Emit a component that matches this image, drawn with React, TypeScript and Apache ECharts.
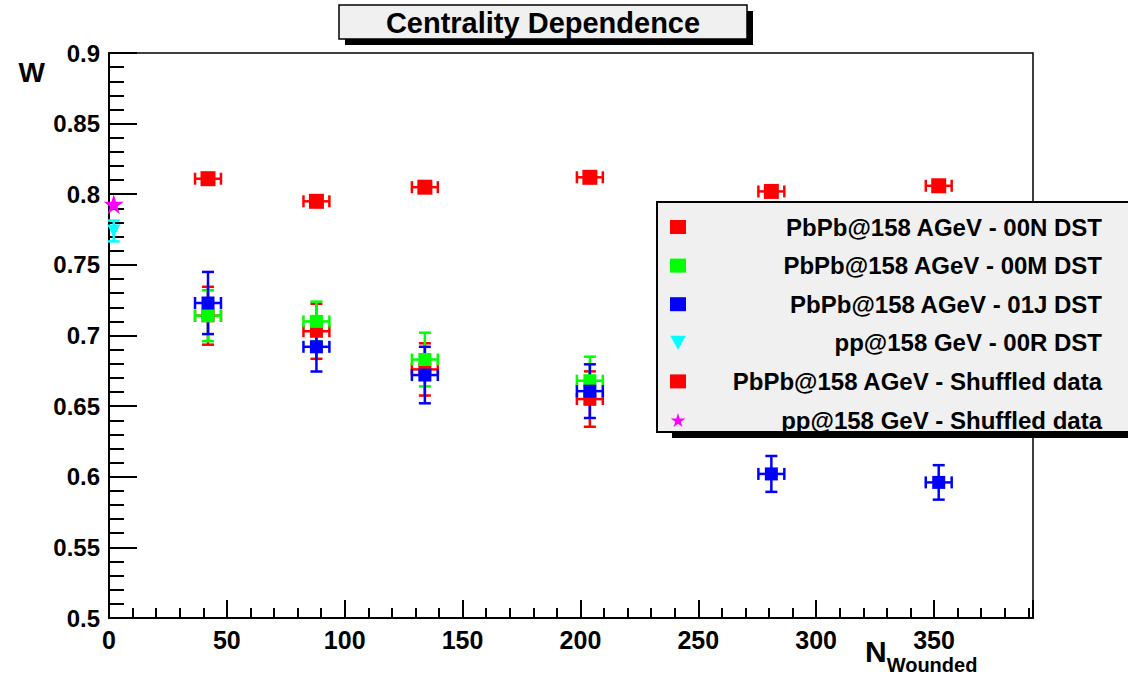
import React, { useEffect, useRef } from "react";
import * as echarts from "echarts";

// ---- data ----
const xPbPb = [42, 88, 134, 204, 281, 352];
const xErrPbPb = [5.5, 5.5, 5.5, 5.5, 5.5, 5.5];

const yShuffled = [0.811, 0.795, 0.805, 0.812, 0.802, 0.806];
const yErrShuffled = [0.003, 0.003, 0.002, 0.003, 0.003, 0.003];

const x00N = [42, 88, 134, 204];
const y00N = [0.714, 0.703, 0.676, 0.655];
const yErr00N = [0.0205, 0.0195, 0.0185, 0.0196];

const x00M = [42, 88, 134, 204];
const y00M = [0.714, 0.71, 0.683, 0.668];
const yErr00M = [0.018, 0.014, 0.019, 0.017];

const y01J = [0.723, 0.692, 0.672, 0.6606, 0.602, 0.596];
const yErr01J = [0.022, 0.0175, 0.02, 0.019, 0.0127, 0.0122];

const xPP = [2];
const y00R = [0.774];
const yErr00R = [0.0074];
const yPPShuffled = [0.793];

const names = [
  "PbPb@158 AGeV - 00N DST",
  "PbPb@158 AGeV - 00M DST",
  "PbPb@158 AGeV - 01J DST",
  "pp@158 GeV - 00R DST",
  "PbPb@158 AGeV - Shuffled data",
  "pp@158 GeV - Shuffled data",
];

const RED = "#ff0000";
const GREEN = "#00ff00";
const BLUE = "#0000ff";
const CYAN = "#00ffff";
const MAGENTA = "#ff00ff";

const STAR =
  "path://M50,0 L61,35 L98,35 L68,57 L79,91 L50,70 L21,91 L32,57 L2,35 L39,35 Z";
const TRI_DOWN = "path://M0,0 L100,0 L50,90 Z";

const FONT = "'Liberation Sans', Arial, Helvetica, sans-serif";

function errorSeries(
  color: string,
  xs: number[],
  ys: number[],
  xe: number[],
  ye: number[]
) {
  return {
    type: "custom",
    silent: true,
    data: xs.map((x, i) => [x, ys[i], xe[i], ye[i]]),
    encode: { x: 0, y: 1 },
    renderItem: (_p: any, api: any) => {
      const x = api.value(0);
      const y = api.value(1);
      const dx = api.value(2);
      const dy = api.value(3);
      const c = api.coord([x, y]);
      const cap = 6;
      const style = { stroke: color, lineWidth: 2.5, fill: "none" };
      const children: any[] = [];
      const ln = (x1: number, y1: number, x2: number, y2: number) => ({
        type: "line",
        shape: { x1, y1, x2, y2 },
        style,
      });
      if (dy > 0) {
        const t = api.coord([x, y + dy]);
        const b = api.coord([x, y - dy]);
        children.push(ln(c[0], t[1], c[0], b[1]));
        children.push(ln(c[0] - cap, t[1], c[0] + cap, t[1]));
        children.push(ln(c[0] - cap, b[1], c[0] + cap, b[1]));
      }
      if (dx > 0) {
        const l = api.coord([x - dx, y]);
        const r = api.coord([x + dx, y]);
        children.push(ln(l[0], c[1], r[0], c[1]));
        children.push(ln(l[0], c[1] - cap, l[0], c[1] + cap));
        children.push(ln(r[0], c[1] - cap, r[0], c[1] + cap));
      }
      return { type: "group", children };
    },
  };
}

function markers(
  name: string,
  color: string,
  xs: number[],
  ys: number[],
  symbol: string,
  size: number
) {
  return {
    type: "scatter",
    name,
    symbol,
    symbolSize: size,
    itemStyle: { color, opacity: 1 },
    data: xs.map((x, i) => [x, ys[i]]),
  };
}

export default function App() {
  const ref = useRef<HTMLDivElement>(null);
  useEffect(() => {
    if (!ref.current) return;
    const chart = echarts.init(ref.current, undefined, { renderer: "svg" });
    const option: any = {
      animation: false,
      backgroundColor: "#ffffff",
      title: {
        text: "Centrality Dependence",
        left: 543,
        top: 8,
        padding: 0,
        textAlign: "center",
        textStyle: {
          fontFamily: FONT,
          fontSize: 29,
          fontWeight: "bold",
          color: "#000",
        },
      },
      graphic: [
        {
          type: "rect",
          z: -1,
          shape: { x: 345, y: 11, width: 408, height: 34 },
          style: { fill: "#000" },
        },
        {
          type: "rect",
          z: -1,
          shape: { x: 339, y: 5, width: 408, height: 34 },
          style: { fill: "#f0f0f0", stroke: "#000", lineWidth: 1.5 },
        },
        {
          type: "rect",
          z: 3,
          shape: { x: 672, y: 431, width: 480, height: 7 },
          style: { fill: "#000" },
        },
      ],
      legend: {
        data: [
          { name: names[0], icon: "rect" },
          { name: names[1], icon: "rect" },
          { name: names[2], icon: "rect" },
          { name: names[3], icon: TRI_DOWN },
          { name: names[4], icon: "rect" },
          { name: names[5], icon: STAR },
        ],
        orient: "vertical",
        left: 657,
        top: 202,
        padding: [13, 30, 0, 13],
        itemGap: 14.6,
        itemWidth: 16,
        itemHeight: 14,
        selectedMode: false,
        backgroundColor: "#f0f0f0",
        borderColor: "#000",
        borderWidth: 2,
        formatter: (n: string) => `{r|${n}}`,
        textStyle: {
          fontFamily: FONT,
          fontSize: 24,
          fontWeight: "bold",
          color: "#000",
          rich: {
            r: {
              width: 411,
              align: "right",
              fontFamily: FONT,
              fontSize: 24,
              fontWeight: "bold",
              color: "#000",
              lineHeight: 24,
            },
          },
        },
      },
      grid: {
        left: 109,
        right: 95,
        top: 53,
        bottom: 56,
        show: true,
        outerBoundsMode: "none",
        containLabel: false,
        borderColor: "#000",
        borderWidth: 1.5,
        backgroundColor: "#fff",
      },
      xAxis: {
        type: "value",
        min: 0,
        max: 392,
        interval: 50,
        name: "{n|N}{s|Wounded}",
        nameLocation: "end",
        nameGap: -168,
        nameMoveOverlap: false,
        nameTextStyle: {
          verticalAlign: "top",
          padding: [18, 0, 0, 0],
          rich: {
            n: {
              fontFamily: FONT,
              fontSize: 30,
              fontWeight: "bold",
              color: "#000",
              lineHeight: 30,
            },
            s: {
              fontFamily: FONT,
              fontSize: 20,
              fontWeight: "bold",
              color: "#000",
              lineHeight: 20,
              padding: [27, 0, 0, 0],
            },
          },
        },
        splitLine: { show: false },
        axisLine: { show: true, lineStyle: { color: "#000", width: 2 } },
        axisTick: {
          show: true,
          inside: true,
          length: 18,
          lineStyle: { color: "#000", width: 2 },
        },
        minorTick: {
          show: true,
          splitNumber: 5,
          length: 10,
          lineStyle: { color: "#000", width: 2 },
        },
        axisLabel: {
          showMaxLabel: false,
          margin: 9,
          fontFamily: FONT,
          fontSize: 25,
          fontWeight: "bold",
          color: "#000",
        },
      },
      yAxis: {
        type: "value",
        min: 0.5,
        max: 0.9,
        interval: 0.05,
        name: "W",
        nameLocation: "end",
        nameGap: -5,
        nameMoveOverlap: false,
        nameTextStyle: {
          fontFamily: FONT,
          fontSize: 28,
          fontWeight: "bold",
          color: "#000",
          align: "right",
          verticalAlign: "top",
          padding: [0, 64, 0, 0],
        },
        splitLine: { show: false },
        axisLine: { show: true, lineStyle: { color: "#000", width: 2 } },
        axisTick: {
          show: true,
          inside: true,
          length: 28,
          lineStyle: { color: "#000", width: 2 },
        },
        minorTick: {
          show: true,
          splitNumber: 5,
          length: 15,
          lineStyle: { color: "#000", width: 2 },
        },
        axisLabel: {
          margin: 9,
          fontFamily: FONT,
          fontSize: 24,
          fontWeight: "bold",
          color: "#000",
        },
      },
      series: [
        errorSeries(RED, xPbPb, yShuffled, xErrPbPb, yErrShuffled),
        markers(names[4], RED, xPbPb, yShuffled, "rect", 15),
        errorSeries(RED, x00N, y00N, xErrPbPb.slice(0, 4), yErr00N),
        markers(names[0], RED, x00N, y00N, "rect", 13),
        errorSeries(GREEN, x00M, y00M, xErrPbPb.slice(0, 4), yErr00M),
        markers(names[1], GREEN, x00M, y00M, "rect", 13),
        errorSeries(BLUE, xPbPb, y01J, xErrPbPb, yErr01J),
        markers(names[2], BLUE, xPbPb, y01J, "rect", 13),
        errorSeries(CYAN, xPP, y00R, [0], yErr00R),
        markers(names[3], CYAN, xPP, y00R, TRI_DOWN, 13),
        markers(names[5], MAGENTA, xPP, yPPShuffled, STAR, 20),
      ],
    };
    chart.setOption(option);
    return () => chart.dispose();
  }, []);
  return (
    <div
      ref={ref}
      style={{ position: "fixed", left: 0, top: 0, width: 1128, height: 674 }}
    />
  );
}
